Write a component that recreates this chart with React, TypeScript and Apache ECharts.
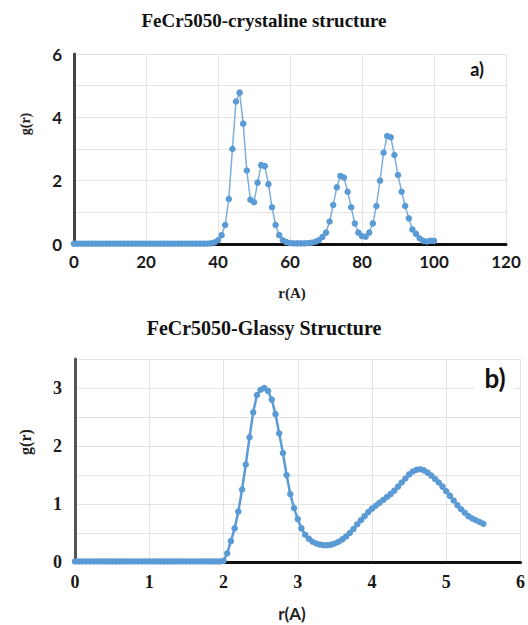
import React, { useEffect, useRef } from "react";
import * as echarts from "echarts";

const crystalR = [
  0, 1, 2, 3, 4, 5, 6, 7, 8, 9, 10, 11, 12, 13, 14, 15, 16, 17, 18, 19,
  20, 21, 22, 23, 24, 25, 26, 27, 28, 29, 30, 31, 32, 33, 34, 35, 36, 37, 38, 39,
  40, 41, 42, 43, 44, 45, 46, 47, 48, 49, 50, 51, 52, 53, 54, 55, 56, 57, 58, 59,
  60, 61, 62, 63, 64, 65, 66, 67, 68, 69, 70, 71, 72, 73, 74, 75, 76, 77, 78, 79,
  80, 81, 82, 83, 84, 85, 86, 87, 88, 89, 90, 91, 92, 93, 94, 95, 96, 97, 98, 99, 100,
];
const crystalG = [
  0.01, 0.01, 0.01, 0.01, 0.01, 0.01, 0.01, 0.01, 0.01, 0.01,
  0.01, 0.01, 0.01, 0.01, 0.01, 0.01, 0.01, 0.01, 0.01, 0.01,
  0.01, 0.01, 0.01, 0.01, 0.01, 0.01, 0.01, 0.01, 0.01, 0.01,
  0.01, 0.01, 0.01, 0.01, 0.01, 0.01, 0.01, 0.01, 0.02, 0.05,
  0.12, 0.28, 0.6, 1.42, 3.0, 4.5, 4.78, 3.8, 2.32, 1.4,
  1.32, 1.94, 2.49, 2.46, 1.89, 1.16, 0.6, 0.28, 0.12, 0.06,
  0.03, 0.02, 0.02, 0.02, 0.02, 0.03, 0.04, 0.07, 0.12, 0.22,
  0.36, 0.71, 1.23, 1.79, 2.15, 2.1, 1.65, 1.16, 0.65, 0.36,
  0.25, 0.23, 0.36, 0.65, 1.2, 2.0, 2.88, 3.41, 3.37, 2.81,
  2.18, 1.65, 1.2, 0.81, 0.46, 0.32, 0.18, 0.1, 0.08, 0.1, 0.1,
];

const glassyR = [
  0, 0.05, 0.1, 0.15, 0.2, 0.25, 0.3, 0.35, 0.4, 0.45,
  0.5, 0.55, 0.6, 0.65, 0.7, 0.75, 0.8, 0.85, 0.9, 0.95,
  1.0, 1.05, 1.1, 1.15, 1.2, 1.25, 1.3, 1.35, 1.4, 1.45,
  1.5, 1.55, 1.6, 1.65, 1.7, 1.75, 1.8, 1.85, 1.9, 1.95,
  2.0, 2.05, 2.1, 2.15, 2.2, 2.25, 2.3, 2.35, 2.4, 2.45,
  2.5, 2.55, 2.6, 2.65, 2.7, 2.75, 2.8, 2.85, 2.9, 2.95,
  3.0, 3.05, 3.1, 3.15, 3.2, 3.25, 3.3, 3.35, 3.4, 3.45,
  3.5, 3.55, 3.6, 3.65, 3.7, 3.75, 3.8, 3.85, 3.9, 3.95,
  4.0, 4.05, 4.1, 4.15, 4.2, 4.25, 4.3, 4.35, 4.4, 4.45,
  4.5, 4.55, 4.6, 4.65, 4.7, 4.75, 4.8, 4.85, 4.9, 4.95,
  5.0, 5.05, 5.1, 5.15, 5.2, 5.25, 5.3, 5.35, 5.4, 5.45, 5.5,
];
const glassyG = [
  0.01, 0.01, 0.01, 0.01, 0.01, 0.01, 0.01, 0.01, 0.01, 0.01,
  0.01, 0.01, 0.01, 0.01, 0.01, 0.01, 0.01, 0.01, 0.01, 0.01,
  0.01, 0.01, 0.01, 0.01, 0.01, 0.01, 0.01, 0.01, 0.01, 0.01,
  0.01, 0.01, 0.01, 0.01, 0.01, 0.01, 0.01, 0.01, 0.01, 0.01,
  0.02, 0.15, 0.36, 0.58, 0.87, 1.25, 1.68, 2.15, 2.58, 2.88,
  2.97, 3.0, 2.95, 2.8, 2.55, 2.22, 1.88, 1.5, 1.17, 0.93,
  0.74, 0.58, 0.47, 0.4, 0.35, 0.32, 0.3, 0.29, 0.29, 0.3,
  0.32, 0.35, 0.39, 0.44, 0.5, 0.57, 0.65, 0.72, 0.79, 0.86,
  0.92, 0.97, 1.02, 1.07, 1.12, 1.17, 1.23, 1.3, 1.37, 1.44,
  1.51, 1.56, 1.59, 1.6, 1.58, 1.54, 1.49, 1.43, 1.37, 1.3,
  1.22, 1.14, 1.06, 0.98, 0.91, 0.85, 0.79, 0.75, 0.72, 0.69, 0.66,
];

const titleA = "FeCr5050-crystaline structure";
const titleB = "FeCr5050-Glassy Structure";
const SERIF = "'Liberation Serif', 'DejaVu Serif', serif";
const SANS = "Lato, 'Liberation Sans', sans-serif";
const BLUE = "#5b9bd5";

export default function App() {
  const ref = useRef<HTMLDivElement>(null);
  useEffect(() => {
    if (!ref.current) return;
    const chart = echarts.init(ref.current, null, { renderer: "svg" });
    const gridLine = { show: true, lineStyle: { color: "#e3e3e3", width: 1 } };
    chart.setOption({
      animation: false,
      backgroundColor: "#ffffff",
      title: [
        {
          text: titleA,
          left: "center",
          top: 6,
          textStyle: { fontFamily: SERIF, fontWeight: "bold", fontSize: 19, color: "#111" },
        },
        {
          text: titleB,
          left: "center",
          top: 313,
          textStyle: { fontFamily: SERIF, fontWeight: "bold", fontSize: 20, color: "#111" },
        },
      ],
      grid: [
        { left: 74, top: 54, width: 432, height: 190 },
        { left: 75, top: 359, width: 447, height: 203 },
      ],
      xAxis: [
        {
          type: "value",
          gridIndex: 0,
          min: 0,
          max: 120,
          interval: 20,
          axisLine: { show: true, onZero: false, lineStyle: { color: "#111", width: 3 } },
          axisTick: { show: false },
          splitLine: gridLine,
          axisLabel: { margin: 9, fontFamily: SANS, fontWeight: "bold", fontSize: 17, color: "#1a1a1a" },
        },
        {
          type: "value",
          gridIndex: 1,
          min: 0,
          max: 6,
          interval: 1,
          axisLine: { show: true, onZero: false, lineStyle: { color: "#111", width: 3 } },
          axisTick: { show: false },
          splitLine: gridLine,
          axisLabel: { margin: 11, fontFamily: SERIF, fontWeight: "bold", fontSize: 18, color: "#1a1a1a" },
        },
      ],
      yAxis: [
        {
          type: "value",
          gridIndex: 0,
          min: 0,
          max: 6,
          interval: 1,
          axisLine: { show: true, lineStyle: { color: "#444", width: 3 } },
          axisTick: { show: false },
          splitLine: gridLine,
          axisLabel: {
            margin: 12,
            fontFamily: SANS,
            fontWeight: "bold",
            fontSize: 17,
            color: "#1a1a1a",
            formatter: (v: number) => (v % 2 === 0 ? String(v) : ""),
          },
        },
        {
          type: "value",
          gridIndex: 1,
          min: 0,
          max: 3.5,
          interval: 0.5,
          axisLine: { show: true, lineStyle: { color: "#555", width: 3 } },
          axisTick: { show: false },
          splitLine: gridLine,
          axisLabel: {
            margin: 13,
            fontFamily: SERIF,
            fontWeight: "bold",
            fontSize: 18,
            color: "#1a1a1a",
            formatter: (v: number) => (Number.isInteger(v) ? String(v) : ""),
          },
        },
      ],
      series: [
        {
          type: "line",
          xAxisIndex: 0,
          yAxisIndex: 0,
          data: crystalR.map((r, i) => [r, crystalG[i]]),
          symbol: "circle",
          symbolSize: 6.5,
          showAllSymbol: true,
          lineStyle: { color: BLUE, width: 1.5, opacity: 0.8 },
          itemStyle: { color: BLUE },
          z: 3,
        },
        {
          type: "line",
          xAxisIndex: 1,
          yAxisIndex: 1,
          data: glassyR.map((r, i) => [r, glassyG[i]]),
          symbol: "circle",
          symbolSize: 6.5,
          showAllSymbol: true,
          lineStyle: { color: BLUE, width: 2.5 },
          itemStyle: { color: BLUE },
          z: 3,
        },
      ],
      graphic: [
        {
          type: "text",
          x: 292,
          y: 293,
          style: { text: "r(A)", fontFamily: SERIF, fontWeight: "bold", fontSize: 15, fill: "#222", align: "center", verticalAlign: "middle" },
        },
        {
          type: "text",
          x: 25,
          y: 124,
          rotation: Math.PI / 2,
          style: { text: "g(r)", fontFamily: SERIF, fontWeight: "bold", fontSize: 14, fill: "#222", align: "center", verticalAlign: "middle" },
        },
        {
          type: "text",
          x: 292,
          y: 613,
          style: { text: "r(A)", fontFamily: SANS, fontWeight: "bold", fontSize: 17, fill: "#222", align: "center", verticalAlign: "middle" },
        },
        {
          type: "text",
          x: 25,
          y: 442,
          rotation: Math.PI / 2,
          style: { text: "g(r)", fontFamily: SERIF, fontWeight: "bold", fontSize: 16, fill: "#222", align: "center", verticalAlign: "middle" },
        },
        {
          type: "rect",
          shape: { x: 458, y: 56, width: 40, height: 26 },
          style: { fill: "#ffffff" },
          z: 10,
        },
        {
          type: "text",
          x: 477,
          y: 69,
          z: 11,
          style: { text: "a)", fontFamily: SANS, fontWeight: "bold", fontSize: 18, fill: "#111", align: "center", verticalAlign: "middle" },
        },
        {
          type: "rect",
          shape: { x: 474, y: 361, width: 40, height: 34 },
          style: { fill: "#ffffff" },
          z: 10,
        },
        {
          type: "text",
          x: 495,
          y: 378,
          z: 11,
          style: { text: "b)", fontFamily: SANS, fontWeight: "bold", fontSize: 26, fill: "#111", align: "center", verticalAlign: "middle" },
        },
      ],
    });
    return () => chart.dispose();
  }, []);
  return (
    <div
      ref={ref}
      style={{ position: "absolute", left: 0, top: 0, width: 528, height: 625, background: "#fff" }}
    />
  );
}
